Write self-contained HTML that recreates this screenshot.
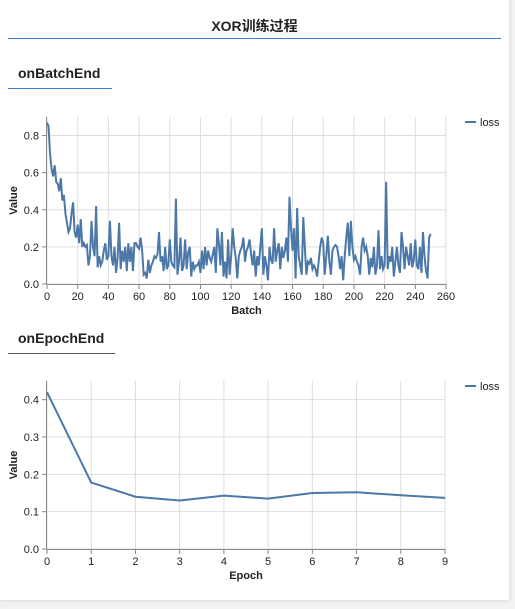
<!DOCTYPE html>
<html><head><meta charset="utf-8">
<style>
body{margin:0;background:#f2f2f2;width:515px;height:609px;overflow:hidden;font-family:"Liberation Sans","Noto Sans CJK SC",sans-serif}
#panel{position:absolute;left:0;top:0;width:509px;height:600px;background:#fff;box-shadow:0 0 4px rgba(0,0,0,0.15)}
.t{position:absolute;font-weight:bold;color:#222}
</style></head><body>
<div id="panel">
<div class="t" style="left:0;width:509px;text-align:center;top:16px;font-size:14px">XOR训练过程</div>
<div style="position:absolute;left:8px;top:38px;width:493px;height:1px;background:#3b7ad8"></div>
<div class="t" style="left:18px;top:65px;font-size:14px">onBatchEnd</div>
<div style="position:absolute;left:8px;top:88px;width:104px;height:1px;background:#3b7ad8"></div>
<div class="t" style="left:18px;top:330px;font-size:14px">onEpochEnd</div>
<div style="position:absolute;left:8px;top:353px;width:107px;height:1px;background:#555"></div>
</div>
<svg id="svg" width="515" height="609" style="position:absolute;left:0;top:0" font-family="Liberation Sans, sans-serif"></svg>
<script>
const batchLoss=[0.87,0.85,0.7,0.62,0.58,0.64,0.55,0.54,0.5,0.57,0.45,
0.48,0.38,0.33,0.28,0.3,0.38,0.44,0.28,0.25,0.32,0.22,
0.35,0.2,0.22,0.2,0.21,0.1,0.15,0.34,0.2,0.15,
0.42,0.09,0.15,0.1,0.12,0.18,0.22,0.13,0.15,
0.34,0.15,0.1,0.2,0.06,0.14,0.33,0.08,0.18,0.12,0.2,0.07,0.22,0.12,0.2,0.07,0.22,0.22,0.2,0.19,
0.25,0.18,0.05,0.06,0.03,0.13,0.06,0.1,0.12,0.15,0.14,0.16,0.28,0.12,0.15,0.07,0.2,0.08,0.1,0.24,
0.12,0.1,0.09,0.46,0.05,0.12,0.25,0.07,0.1,0.24,0.08,0.17,0.2,0.04,0.12,0.08,0.1,0.1,0.12,0.06,
0.18,0.08,0.2,0.1,0.18,0.14,0.12,0.16,0.2,0.06,0.3,0.22,0.1,0.28,0.04,0.12,0.03,0.24,0.05,0.15,
0.3,0.2,0.14,0.03,0.15,0.18,0.2,0.25,0.12,0.18,0.2,0.24,0.16,0.1,0.18,0.04,0.15,0.1,0.2,0.3,
0.05,0.15,0.1,0.02,0.2,0.13,0.11,0.3,0.12,0.18,0.22,0.08,0.2,0.14,0.18,0.25,0.12,0.47,0.3,0.18,
0.3,0.03,0.41,0.15,0.1,0.05,0.36,0.2,0.05,0.12,0.11,0.14,0.08,0.1,0.08,0.04,0.12,0.2,0.25,0.22,
0.05,0.15,0.26,0.12,0.05,0.18,0.2,0.21,0.2,0.15,0.08,0.15,0.02,0.15,0.25,0.33,0.15,0.34,0.2,0.13,
0.15,0.12,0.1,0.05,0.2,0.25,0.18,0.2,0.15,0.05,0.14,0.09,0.2,0.05,0.1,0.29,0.08,0.15,0.08,0.1,
0.55,0.08,0.15,0.12,0.2,0.04,0.12,0.2,0.1,0.06,0.28,0.2,0.08,0.2,0.15,0.1,0.22,0.09,0.13,0.24,0.1,0.08,0.2,0.06,0.28,0.15,0.07,0.03,0.25,0.27];
const epochLoss=[0.42,0.178,0.14,0.13,0.143,0.135,0.15,0.152,0.144,0.137];
const batchXTicks=[0,20,40,60,80,100,120,140,160,180,200,220,240,260];
const batchYTicks=[0,0.2,0.4,0.6,0.8];
const epochXTicks=[0,1,2,3,4,5,6,7,8,9];
const epochYTicks=[0,0.1,0.2,0.3,0.4];
const NS='http://www.w3.org/2000/svg';
const svg=document.getElementById('svg');
function mk(tag,attrs,parent){const e=document.createElementNS(NS,tag);for(const k in attrs)e.setAttribute(k,attrs[k]);(parent||svg).appendChild(e);return e;}
function chart(o){
  const g=mk('g',{});
  
  
  const sx=v=>o.x0+(v-o.xmin)/(o.xmax-o.xmin)*(o.x1-o.x0);
  const sy=v=>o.y0-(v/o.ymax)*(o.y0-o.y1);
  o.xt.forEach(t=>{const l=mk('line',{x1:sx(t),x2:sx(t),y1:o.y1,y2:o.y0,stroke:'#ddd'},g);
    });
  o.yt.forEach(t=>{const l=mk('line',{x1:o.x0,x2:o.x1,y1:sy(t),y2:sy(t),stroke:'#ddd'},g);
    });
  mk('line',{x1:o.x0,x2:o.x1,y1:o.y0+0.5,y2:o.y0+0.5,stroke:'#888'},g);
  mk('line',{x1:o.x0-0.5,x2:o.x0-0.5,y1:o.y1,y2:o.y0,stroke:'#888'},g);
  o.xt.forEach(t=>{mk('line',{x1:sx(t),x2:sx(t),y1:o.y0,y2:o.y0+5,stroke:'#888'},g);
    const tx=mk('text',{x:sx(t),y:o.y0+16,'font-size':11,'text-anchor':'middle',fill:'#222'},g);tx.textContent=t;
    });
  o.yt.forEach(t=>{mk('line',{x1:o.x0-5,x2:o.x0,y1:sy(t),y2:sy(t),stroke:'#888'},g);
    const tx=mk('text',{x:o.x0-8,y:sy(t)+4,'font-size':11,'text-anchor':'end',fill:'#222'},g);tx.textContent=t.toFixed(1);
    });
  const xl=mk('text',{x:(o.x0+o.x1)/2,y:o.y0+30,'font-size':11,'font-weight':'bold','text-anchor':'middle',fill:'#222'},g);xl.textContent=o.xlabel;
  
  const yl=mk('text',{x:0,y:0,'font-size':11,'font-weight':'bold','text-anchor':'middle',fill:'#222',transform:`translate(17,${(o.y0+o.y1)/2}) rotate(-90)`},g);yl.textContent='Value';
  
  const d=o.data.map((v,i)=>(i?'L':'M')+sx(i).toFixed(2)+','+sy(v).toFixed(2)).join('');
  const p=mk('path',{d:d,fill:'none',stroke:'#4c78a8','stroke-width':2},g);
  
  const lg=mk('g',{},g);
  
  mk('line',{x1:465,x2:476,y1:o.y1+5,y2:o.y1+5,stroke:'#4c78a8','stroke-width':2},lg);
  const lt=mk('text',{x:480,y:o.y1+9,'font-size':11,fill:'#222'},lg);lt.textContent='loss';
}
chart({name:'batch-chart',data:batchLoss,x0:47,x1:446,xmin:0,xmax:260,y0:284,y1:117,ymax:0.9,xt:batchXTicks,yt:batchYTicks,xlabel:'Batch'});
chart({name:'epoch-chart',data:epochLoss,x0:47,x1:445,xmin:0,xmax:9,y0:549,y1:381,ymax:0.45,xt:epochXTicks,yt:epochYTicks,xlabel:'Epoch'});
</script>
</body></html>
